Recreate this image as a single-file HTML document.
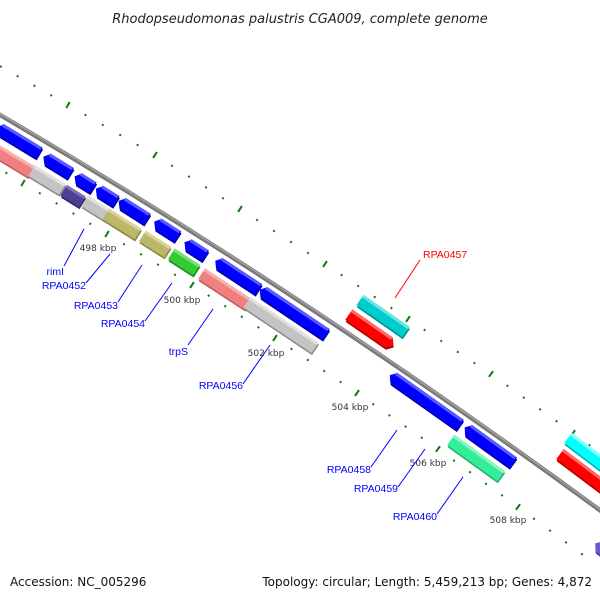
<!DOCTYPE html>
<html><head><meta charset="utf-8"><style>
html,body{margin:0;padding:0;background:#fff;}
svg{display:block;font-family:"Liberation Sans","DejaVu Sans",sans-serif;}
</style></head><body>
<svg id="s" width="600" height="600" viewBox="0 0 600 600" xmlns="http://www.w3.org/2000/svg">
<rect width="600" height="600" fill="#fff"/>
<text x="300" y="23" font-size="13" font-style="italic" text-anchor="middle" fill="#222" font-family="DejaVu Sans, sans-serif">Rhodopseudomonas palustris CGA009, complete genome</text>
<g id="ticks"></g>
<path d="M-5,112 Q300,290 605,514" fill="none" stroke="#7a7a7a" stroke-width="4.5"/>
<path d="M-5,111 Q300,289 605,513" fill="none" stroke="#a8a8a8" stroke-width="1.2"/>
<g id="genes"></g>
<g font-size="9" fill="#333" text-anchor="middle" font-family="DejaVu Sans, sans-serif">
<text x="98" y="251">498 kbp</text>
<text x="182" y="303">500 kbp</text>
<text x="266" y="356">502 kbp</text>
<text x="350" y="410">504 kbp</text>
<text x="428" y="466">506 kbp</text>
<text x="508" y="523">508 kbp</text>
</g>
<g stroke="#0000ff" stroke-width="1">
<line x1="64" y1="266" x2="84" y2="229"/>
<line x1="86" y1="283" x2="110" y2="254"/>
<line x1="118" y1="302" x2="142" y2="265"/>
<line x1="145" y1="321" x2="172" y2="283"/>
<line x1="188" y1="345" x2="213" y2="309"/>
<line x1="243" y1="384" x2="270" y2="345"/>
<line x1="371" y1="467" x2="397" y2="430"/>
<line x1="398" y1="487" x2="425" y2="449"/>
<line x1="437" y1="514" x2="463" y2="477"/>
</g>
<line x1="395" y1="298" x2="420" y2="260" stroke="#ff0000"/>
<g font-size="10.5" fill="#0000ff" text-anchor="end">
<text x="64" y="275">rimI</text>
<text x="86" y="289">RPA0452</text>
<text x="118" y="309">RPA0453</text>
<text x="145" y="327">RPA0454</text>
<text x="188" y="355">trpS</text>
<text x="243" y="389">RPA0456</text>
<text x="371" y="473">RPA0458</text>
<text x="398" y="492">RPA0459</text>
<text x="437" y="520">RPA0460</text>
</g>
<text x="423" y="258" font-size="10.5" fill="#ff0000">RPA0457</text>
<text x="10" y="586" font-size="12" fill="#111" font-family="DejaVu Sans, sans-serif">Accession: NC_005296</text>
<text x="592" y="586" font-size="12" fill="#111" text-anchor="end" font-family="DejaVu Sans, sans-serif">Topology: circular; Length: 5,459,213 bp; Genes: 4,872</text>
</svg>
<script>
var NS="http://www.w3.org/2000/svg";
function el(n,a,p){var e=document.createElementNS(NS,n);for(var k in a)e.setAttribute(k,a[k]);p.appendChild(e);return e;}
var T=document.getElementById("ticks");
function row(pts){
  for(var i=0;i<pts.length-1;i++){
    var a=pts[i],b=pts[i+1];
    for(var j=0;j<5;j++){
      var t=j/5,x=a[0]+(b[0]-a[0])*t,y=a[1]+(b[1]-a[1])*t;
      var dx=b[0]-a[0],dy=b[1]-a[1],L=Math.hypot(dx,dy),px=dy/L,py=-dx/L;
      var h=(j==0)?3.5:1;
      el("line",{x1:x-px*h,y1:y-py*h,x2:x+px*h,y2:y+py*h,stroke:"#0a7a0a","stroke-width":2},T);
    }
  }
}
row([[-16,57],[68,105],[155,155],[240,209],[325,264],[408,319],[491,374],[573,433],[655,494]]);
row([[-60,133],[23,183],[107,234],[192,285],[275,338],[357,393],[438,449],[518,507],[598,566]]);
var G=document.getElementById("genes");
var C={b:["#0000ff","#5a5aff","#0000a0"],p:["#f08080","#f6b0b0","#b85a5a"],g:["#c4c4c4","#e2e2e2","#8a8a8a"],
u:["#4a3f90","#7a70b8","#2e2766"],k:["#bdb76b","#d8d49a","#8a8540"],gr:["#33cc33","#77e077","#1e8a1e"],
c:["#00cccc","#66e6e6","#009090"],r:["#ff0000","#ff6666","#b00000"],s:["#33ee99","#88f5c2","#1faa6a"],
c2:["#00ffff","#88ffff","#00b0b0"],pu:["#6a5acd","#9a8ee0","#483d8b"]};
function gene(cx,cy,L,c,dir){
  var a=31+cx/600*6,h=12.5,w=L/2,g=el("g",{transform:"translate("+cx+","+cy+") rotate("+a+")"},G),col=C[c];
  var p;
  if(dir<0)p=[[-w,0],[-w+5,-h/2],[w,-h/2],[w,h/2],[-w+5,h/2]];
  else if(dir>0)p=[[-w,-h/2],[w-5,-h/2],[w,0],[w-5,h/2],[-w,h/2]];
  else p=[[-w,-h/2],[w,-h/2],[w,h/2],[-w,h/2]];
  el("polygon",{points:p.map(function(q){return (q[0]+1.5)+","+(q[1]+1.5)}).join(" "),fill:col[2]},g);
  el("polygon",{points:p.map(function(q){return q.join(",")}).join(" "),fill:col[0]},g);
  el("rect",{x:-w+(dir<0?4:0),y:-h/2,width:L-(dir!=0?5:0),height:3,fill:col[1]},g);
}
[[18,140,50,"b",-1],[12,160,45,"p",0],[57,165,32,"b",-1],[47,180,36,"g",0],[84,182,22,"b",-1],
[73,196,22,"u",0],[106,195,24,"b",-1],[96,208,27,"g",0],[133,210,34,"b",-1],[122,224,38,"k",0],
[166,229,28,"b",-1],[155,244,30,"k",0],[195,249,25,"b",-1],[184,262,30,"gr",0],[237,275,52,"b",-1],
[225,289,56,"p",0],[293,312,80,"b",-1],[281,325,82,"g",0],[383,316,56,"c",0],[371,330,54,"r",1],
[425,400,86,"b",-1],[489,445,60,"b",-1],[476,458,62,"s",0],[600,462,80,"c2",0],[592,478,80,"r",0],
[604,550,22,"pu",-1]].forEach(function(d){gene(d[0],d[1],d[2],d[3],d[4]);});
</script>
</body></html>
